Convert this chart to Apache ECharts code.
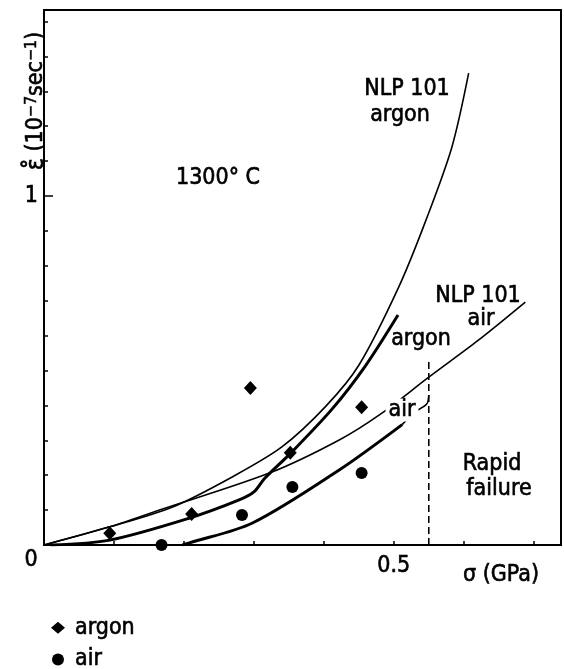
<!DOCTYPE html>
<html>
<head>
<meta charset="utf-8">
<script src="https://cdn.jsdelivr.net/npm/echarts@6/dist/echarts.min.js"></script>
<style>
  html, body { margin: 0; padding: 0; background: #fff; }
  #chart { width: 564px; height: 669px; }
</style>
</head>
<body>
<div id="chart"></div>
<script>
// Creep rate (10^-7 s^-1) against stress σ (GPa) at 1300 °C

// NLP 101 model curves
const nlpArgon = [[0,0],[0.094,0.052],[0.184,0.109],[0.269,0.195],[0.340,0.281],[0.403,0.398],[0.450,0.515],[0.507,0.739],[0.546,0.931],[0.583,1.140],[0.607,1.352]];
const nlpAir = [[0,0],[0.094,0.052],[0.165,0.100],[0.322,0.206],[0.422,0.301],[0.483,0.378],[0.550,0.481],[0.621,0.587],[0.688,0.696]];

// fitted curves through the measurements
const argonFit = [[0.01,0],[0.094,0.014],[0.208,0.077],[0.279,0.129],[0.300,0.152],[0.315,0.190],[0.353,0.264],[0.412,0.390],[0.460,0.515],[0.506,0.659]];
const airFit = [[0.198,0],[0.208,0.006],[0.298,0.063],[0.422,0.215],[0.512,0.345]];
const airFitTail = [[0.512,0.345],[0.528,0.378],[0.547,0.404],[0.550,0.430]];

// failure stress
const failureStress = 0.55;
const failureTop = 0.53;

// measured points
const argonPoints = [[0.094,0.034],[0.211,0.089],[0.352,0.264],[0.295,0.450],[0.454,0.395]];
const airPoints = [[0.168,0.0],[0.283,0.086],[0.355,0.166],[0.454,0.206]];

// axis ranges and the labelled ticks
const xMax = 0.739, yMax = 1.533;
const xLabels = ['0.5'];
const yLabels = ['1'];

const FONT = "'DejaVu Sans Condensed','DejaVu Sans',sans-serif";
const INK = '#000';

function curve(name, data, width) {
  return {
    name, type: 'line', data, smooth: 0.3, showSymbol: false, symbol: 'none',
    lineStyle: { color: INK, width }, silent: true, z: 3
  };
}

function txtStyle(text, size, extra) {
  return Object.assign({
    text, font: size + 'px ' + FONT, fill: INK, align: 'center', verticalAlign: 'middle',
    stroke: INK, lineWidth: 0.6
  }, extra || {});
}

function txt(text, x, y, size, extra) {
  return { type: 'text', x, y, z: 100, style: txtStyle(text, size, extra) };
}

const chart = echarts.init(document.getElementById('chart'), null, { renderer: 'canvas' });

chart.setOption({
  animation: false,
  backgroundColor: '#fff',
  grid: { left: 44, top: 10, width: 519, height: 535, show: true, borderColor: INK, borderWidth: 2, containLabel: false },
  xAxis: {
    type: 'value', min: 0, max: xMax, interval: 0.1,
    axisLine: { show: true, lineStyle: { color: INK, width: 2 } },
    axisTick: { show: true, inside: true, length: 4, lineStyle: { color: INK, width: 1.5 } },
    axisLabel: {
      margin: 10, color: INK, fontFamily: FONT, fontSize: 23, textBorderColor: INK, textBorderWidth: 0.6,
      formatter: v => xLabels.find(l => Math.abs(parseFloat(l) - v) < 1e-6) || ''
    },
    splitLine: { show: false }
  },
  yAxis: [{
    type: 'value', min: 0, max: yMax, interval: 0.1,
    axisLine: { show: true, lineStyle: { color: INK, width: 2 } },
    axisTick: { show: true, inside: true, length: 4, lineStyle: { color: INK, width: 1.5 } },
    axisLabel: {
      margin: 6, color: INK, fontFamily: FONT, fontSize: 23, textBorderColor: INK, textBorderWidth: 0.6,
      formatter: v => yLabels.find(l => Math.abs(parseFloat(l) - v) < 1e-6) || ''
    },
    splitLine: { show: false }
  }, {
    // longer tick at the unit mark
    type: 'value', min: 0, max: yMax, interval: 1, position: 'left',
    axisLine: { show: false },
    axisTick: { show: true, inside: true, length: 9, lineStyle: { color: INK, width: 1.5 } },
    axisLabel: { show: false },
    splitLine: { show: false }
  }],
  legend: {
    orient: 'vertical', left: 51, top: 616, height: 120, padding: 0, itemWidth: 14, itemHeight: 12, itemGap: 8,
    data: ['argon', 'air'],
    itemStyle: { opacity: 1 },
    textStyle: { color: INK, fontFamily: FONT, fontSize: 23, lineHeight: 22, padding: [0, 0, 0, 5], textBorderColor: INK, textBorderWidth: 0.6 }
  },
  series: [
    curve('NLP 101 argon', nlpArgon, 1.6),
    curve('NLP 101 air', nlpAir, 1.6),
    curve('argon fit', argonFit, 3),
    curve('air fit', airFit, 3),
    curve('air fit tail', airFitTail, 1.6),
    {
      name: 'failure', type: 'line', data: [[failureStress, 0], [failureStress, failureTop]],
      showSymbol: false, symbol: 'none', silent: true,
      lineStyle: { color: INK, width: 1.6, type: [7, 4] }, z: 3
    },
    {
      name: 'argon', type: 'scatter', data: argonPoints, symbol: 'diamond', symbolSize: [13, 14],
      itemStyle: { color: INK, opacity: 1 }, z: 5
    },
    {
      name: 'air', type: 'scatter', data: airPoints, symbol: 'circle', symbolSize: 12,
      itemStyle: { color: INK, opacity: 1 }, z: 5
    }
  ],
  graphic: [
    txt('NLP 101', 407, 89, 23),
    txt('argon', 400, 115, 23),
    txt('1300° C', 218, 178, 23),
    txt('NLP 101', 478, 296, 23),
    txt('air', 481, 319, 23),
    txt('argon', 421, 339, 23),
    txt('air', 402, 410, 23, { backgroundColor: '#fff', padding: [0, 3, 0, 3] }),
    txt('Rapid', 492, 464, 23),
    txt('failure', 499, 489, 23),
    txt('0', 31, 560, 23),
    txt('σ (GPa)', 501, 575, 23),
    {
      type: 'text', x: 36, y: 101, rotation: Math.PI / 2, z: 100,
      style: {
        text: '{e|ε̊}{m| (10}{s|−7}{m|sec}{s|−1}{m|)}',
        align: 'center', verticalAlign: 'middle', fill: INK,
        rich: {
          e: { font: '25px ' + FONT, fill: INK, lineHeight: 25, stroke: INK, lineWidth: 0.6 },
          m: { font: '23px ' + FONT, fill: INK, lineHeight: 25, stroke: INK, lineWidth: 0.6 },
          s: { font: '16px ' + FONT, fill: INK, lineHeight: 25, verticalAlign: 'top', stroke: INK, lineWidth: 0.5 }
        }
      }
    }
  ]
});
</script>
</body>
</html>
